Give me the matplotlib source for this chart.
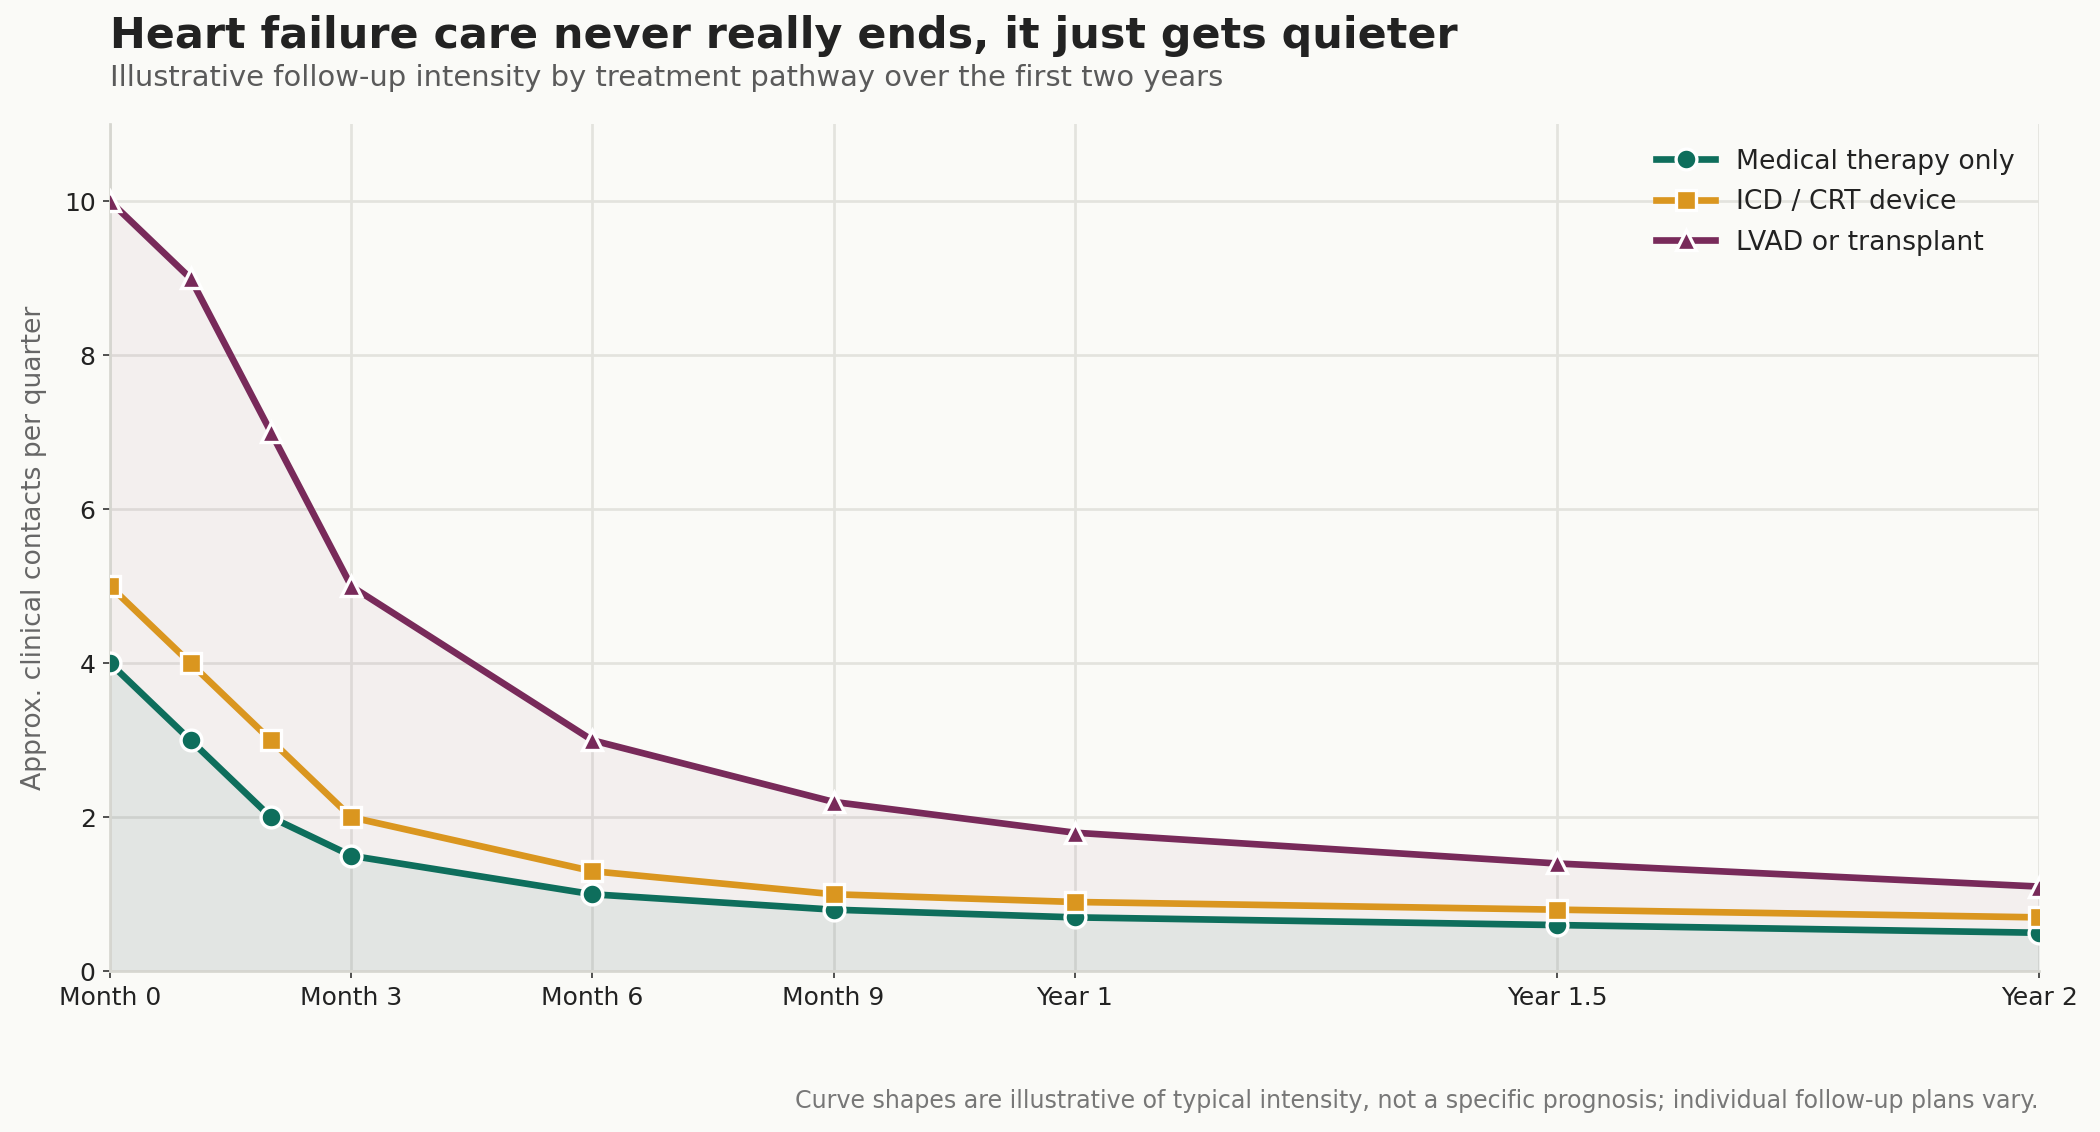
import matplotlib.pyplot as plt

months = [0, 1, 2, 3, 6, 9, 12, 18, 24]
tick_pos = [0, 3, 6, 9, 12, 18, 24]
tick_labels = ["Month 0", "Month 3", "Month 6", "Month 9", "Year 1", "Year 1.5", "Year 2"]

medical = [4, 3, 2, 1.5, 1.0, 0.8, 0.7, 0.6, 0.5]
device = [5, 4, 3, 2, 1.3, 1.0, 0.9, 0.8, 0.7]
lvad = [10, 9, 7, 5, 3, 2.2, 1.8, 1.4, 1.1]

bg = "#fafaf7"
green = "#0e6e5c"
orange = "#da961f"
purple = "#782a5a"

fig, ax = plt.subplots(figsize=(14, 7.547), dpi=150)
fig.patch.set_facecolor(bg)
ax.set_facecolor(bg)
fig.subplots_adjust(left=0.0525, right=0.971, top=0.89, bottom=0.142)

# soft fills under the outer curves
ax.fill_between(months, lvad, color=purple, alpha=0.05, lw=0, zorder=1)
ax.fill_between(months, medical, color=green, alpha=0.07, lw=0, zorder=1)

ax.plot(months, medical, color=green, lw=3.2, marker="o", ms=10, mec="white", mew=1.6,
        label="Medical therapy only", zorder=4)
ax.plot(months, device, color=orange, lw=3.2, marker="s", ms=10, mec="white", mew=1.6,
        label="ICD / CRT device", zorder=4)
ax.plot(months, lvad, color=purple, lw=3.2, marker="^", ms=10, mec="white", mew=1.6,
        label="LVAD or transplant", zorder=4)

ax.set_xlim(0, 24)
ax.set_ylim(0, 11)
ax.set_xticks(tick_pos)
ax.set_xticklabels(tick_labels, fontsize=12, color="#222222")
ax.set_yticks([0, 2, 4, 6, 8, 10])
ax.tick_params(axis="y", labelsize=12, labelcolor="#222222", color="#333333")
ax.tick_params(axis="x", color="#333333")
ax.grid(True, color="#e3e3de", lw=1.3, zorder=0)
ax.set_axisbelow(True)
for s in ["top", "right"]:
    ax.spines[s].set_visible(False)
for s in ["left", "bottom"]:
    ax.spines[s].set_color("#d6d6d0")
    ax.spines[s].set_linewidth(1.3)

ax.set_ylabel("Approx. clinical contacts per quarter", fontsize=12.8, color="#666666", labelpad=8)

leg = ax.legend(loc="upper right", frameon=False, fontsize=12.8, handlelength=2.2,
                labelspacing=0.55)
for t in leg.get_texts():
    t.set_color("#222222")

fig.text(0.0525, 0.950, "Heart failure care never really ends, it just gets quieter",
         fontsize=20.6, fontweight="bold", color="#222222", ha="left", va="bottom")
fig.text(0.0525, 0.919, "Illustrative follow-up intensity by treatment pathway over the first two years",
         fontsize=13.9, color="#5a5a5a", ha="left", va="bottom")
fig.text(0.971, 0.017, "Curve shapes are illustrative of typical intensity, not a specific prognosis; individual follow-up plans vary.",
         fontsize=11.4, color="#777777", ha="right", va="bottom")

fig.savefig("out.png", dpi=150, facecolor=bg)
